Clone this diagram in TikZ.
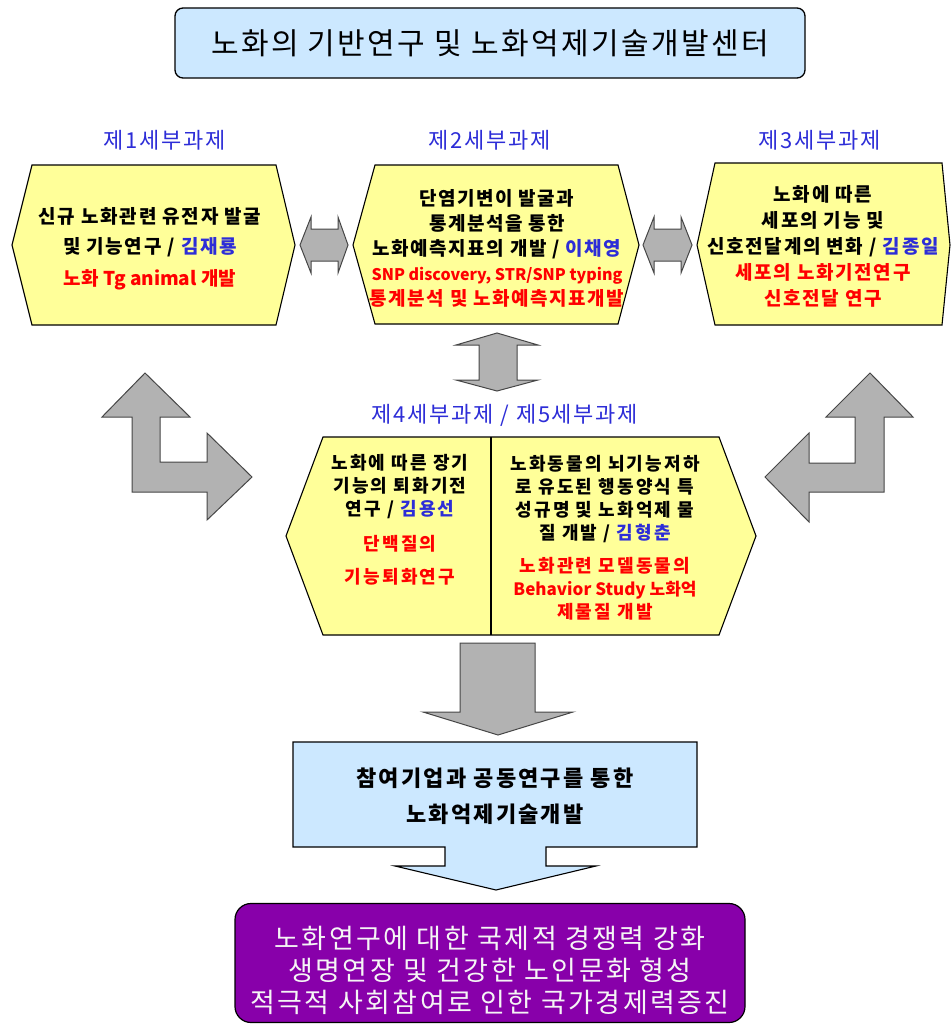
\documentclass[tikz,border=0pt]{standalone}
\usepackage{fontspec}
\setmainfont{Noto Sans CJK KR}
\usepackage{tikz}
\definecolor{skyfill}{RGB}{204,232,255}
\definecolor{hexyellow}{RGB}{255,255,153}
\definecolor{arrowgray}{RGB}{178,178,178}
\definecolor{arrowedge}{RGB}{70,70,70}
\definecolor{taskblue}{RGB}{45,45,215}
\definecolor{goalpurple}{RGB}{136,0,170}
\newcommand{\pname}[1]{\textcolor{taskblue}{#1}}
\newcommand{\redline}[1]{\textcolor{red}{#1}}
\newcommand{\latinred}[2]{\textcolor{red}{\fontsize{#1}{25}\selectfont\addfontfeature{LetterSpace=0}#2}}
\tikzset{
  titlebox/.style={draw, line width=1.3pt, fill=skyfill, rounded corners=8pt, minimum width=630pt, minimum height=70pt, font=\fontsize{30}{34}\selectfont\addfontfeature{LetterSpace=8}},
  tasklabel/.style={text=taskblue, font=\fontsize{22}{26}\selectfont\addfontfeature{LetterSpace=8}},
  hexbox/.style={draw, line width=1.1pt, fill=hexyellow},
  grayarrow/.style={draw=arrowedge, line width=1pt, fill=arrowgray},
  skybox/.style={draw, line width=1.1pt, fill=skyfill},
  tasktext/.style={align=center, inner sep=0pt, font=\bfseries\fontsize{19}{26}\selectfont\addfontfeature{LetterSpace=9}},
  pairtext/.style={align=center, inner sep=0pt, font=\bfseries\fontsize{18}{23}\selectfont\addfontfeature{LetterSpace=12}},
  goalbox/.style={draw, line width=1.2pt, fill=goalpurple, rounded corners=16pt, minimum width=510pt, minimum height=119pt},
  goaltext/.style={align=center, text=white!92!gray, font=\fontsize{27}{32}\selectfont\addfontfeature{LetterSpace=9}}
}

\begin{document}
\begin{tikzpicture}[x=1pt, y=-1pt]
  \useasboundingbox (0,0) rectangle (951,1025);
  \node[titlebox] (title) at (490,43) {노화의 기반연구 및 노화억제기술개발센터};

  \node[tasklabel] (lab1) at (165,140) {제1세부과제};
  \node[tasklabel] (lab2) at (490,140) {제2세부과제};
  \node[tasklabel] (lab3) at (820,140) {제3세부과제};

  \draw[hexbox] (32,165) -- (276,165) -- (295,245) -- (276,325) -- (32,325) -- (12,245) -- cycle;
  \node[tasktext, font=\bfseries\fontsize{19}{30}\selectfont\addfontfeature{LetterSpace=9}] (task1) at (150,249)
    {신규 노화관련 유전자 발굴\\및 기능연구 / \pname{김재룡}\\[2pt]\latinred{19}{노화 Tg animal 개발}};

  \draw[hexbox] (375,165) -- (618,165) -- (639,245) -- (618,324) -- (375,324) -- (353,245) -- cycle;
  \node[tasktext, font=\bfseries\fontsize{19}{25}\selectfont\addfontfeature{LetterSpace=8}] (task2) at (497,248)
    {단염기변이 발굴과\\통계분석을 통한\\노화예측지표의 개발 / \pname{이채영}\\
     \latinred{16}{SNP discovery, STR/SNP typing}\\\redline{통계분석 및 노화예측지표개발}};

  \draw[hexbox] (715,163) -- (942,163) -- (950,245) -- (942,325) -- (715,325) -- (697,245) -- cycle;
  \node[tasktext] (task3) at (823,246)
    {노화에 따른\\세포의 기능 및\\신호전달계의 변화 / \pname{김종일}\\\redline{세포의 노화기전연구}\\\redline{신호전달 연구}};

  \draw[grayarrow] (300,245) -- (311,217) -- (311,229) -- (338,229) -- (338,217) -- (348,245)
    -- (338,273) -- (338,261) -- (311,261) -- (311,273) -- cycle;
  \draw[grayarrow] (643,245) -- (654,217) -- (654,229) -- (681,229) -- (681,217) -- (692,245)
    -- (681,273) -- (681,261) -- (654,261) -- (654,273) -- cycle;
  \draw[grayarrow] (497,333) -- (538,345) -- (517,345) -- (517,380) -- (538,380) -- (497,391)
    -- (456,380) -- (479,380) -- (479,345) -- (456,345) -- cycle;

  \draw[grayarrow] (145,373) -- (190,417) -- (160,417) -- (160,462) -- (207,462) -- (207,433)
    -- (252,477) -- (207,520) -- (207,492) -- (132,492) -- (132,417) -- (102,417) -- cycle;
  \draw[grayarrow] (870,373) -- (913,417) -- (884,417) -- (884,492) -- (809,492) -- (809,522)
    -- (765,477) -- (809,433) -- (809,463) -- (855,463) -- (855,417) -- (826,417) -- cycle;

  \node[tasklabel] (lab45) at (505,415) {제4세부과제 / 제5세부과제};
  \draw[hexbox] (323,437) -- (719,437) -- (756,536) -- (719,635) -- (323,635) -- (286,536) -- cycle;
  \draw[line width=1.1pt] (491,437) -- (491,635);
  \node[pairtext] (task4) at (400,520)
    {노화에 따른 장기\\기능의 퇴화기전\\연구 / \pname{김용선}\\[12pt]\redline{단백질의}\\[10pt]\redline{기능퇴화연구}};
  \node[pairtext] (task5) at (605,538)
    {노화동물의 뇌기능저하\\로 유도된 행동양식 특\\성규명 및 노화억제 물\\질 개발 / \pname{김형춘}\\[10pt]
     \redline{노화관련 모델동물의}\\\redline{\addfontfeature{LetterSpace=0}\fontsize{17}{23}\selectfont Behavior Study 노화억}\\\redline{제물질 개발}};

  \draw[grayarrow] (460,643) -- (535,643) -- (535,712) -- (573,712) -- (498,735) -- (423,712) -- (460,712) -- cycle;

  \draw[skybox] (293,742) -- (697,742) -- (697,847) -- (546,847) -- (546,866) -- (596,866) -- (496,890)
    -- (395,866) -- (445,866) -- (445,847) -- (293,847) -- cycle;
  \node[tasktext, font=\bfseries\fontsize{22}{36}\selectfont\addfontfeature{LetterSpace=10}] (industry) at (495,796)
    {참여기업과 공동연구를 통한\\노화억제기술개발};

  \node[goalbox] (goal) at (490,963) {};
  \node[goaltext] (goaltext) at (490,970)
    {노화연구에 대한 국제적 경쟁력 강화\\생명연장 및 건강한 노인문화 형성\\적극적 사회참여로 인한 국가경제력증진};
\end{tikzpicture}
\end{document}
